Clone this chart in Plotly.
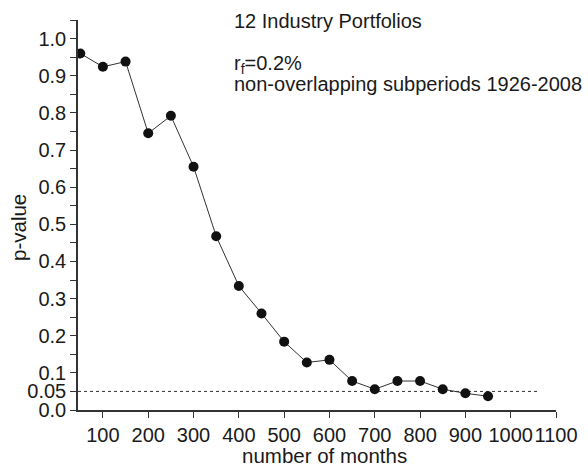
import plotly.graph_objects as go

months = [50, 100, 150, 200, 250, 300, 350, 400, 450, 500, 550, 600, 650, 700, 750, 800, 850, 900, 950]
p_values = [0.960, 0.924, 0.938, 0.745, 0.792, 0.655, 0.468, 0.334, 0.260, 0.184, 0.128, 0.135,
            0.078, 0.056, 0.078, 0.078, 0.056, 0.045, 0.037]
threshold = 0.05
threshold_x = [45, 1060]

x_tickvals = [100, 200, 300, 400, 500, 600, 700, 800, 900, 1000, 1100]
x_ticktext = ["100", "200", "300", "400", "500", "600", "700", "800", "900", "1000", "1100"]
y_tickvals = [round(i * 0.05, 2) for i in range(22)]
y_labeled = {0.0: "0.0", 0.05: "0.05", 0.1: "0.1", 0.2: "0.2", 0.3: "0.3", 0.4: "0.4",
             0.5: "0.5", 0.6: "0.6", 0.7: "0.7", 0.8: "0.8", 0.9: "0.9", 1.0: "1.0"}
y_ticktext = [y_labeled.get(v, "") for v in y_tickvals]

font_family = "Liberation Sans, Arial, sans-serif"
text_color = "#1a1a1a"
axis_color = "#333333"

L, R, T, B = 78, 32, 20, 57
W, H = 588, 467
pw, ph = W - L - R, H - T - B

fig = go.Figure()
fig.add_trace(go.Scatter(
    x=threshold_x, y=[threshold, threshold], mode="lines",
    line=dict(color="#333333", width=1, dash="dot"), hoverinfo="skip", showlegend=False))
fig.add_trace(go.Scatter(
    x=months, y=p_values, mode="lines+markers",
    line=dict(color="#333333", width=1),
    marker=dict(color="#111111", size=10),
    showlegend=False))

fig.update_layout(
    width=W, height=H,
    margin=dict(l=L, r=R, t=T, b=B, autoexpand=False),
    plot_bgcolor="white", paper_bgcolor="white",
    font=dict(family=font_family, size=20, color=text_color),
    xaxis=dict(range=[45, 1100], tickvals=x_tickvals, ticktext=x_ticktext, tickangle=0,
               automargin=False,
               showgrid=False, zeroline=False, showline=True, linecolor=axis_color, linewidth=1.5,
               ticks="outside", ticklen=6, tickwidth=1.2, tickcolor=axis_color,
               tickfont=dict(size=20, color=text_color)),
    yaxis=dict(range=[0, 1.05], tickvals=y_tickvals, ticktext=y_ticktext, tickangle=0,
               automargin=False,
               showgrid=False, zeroline=False, showline=True, linecolor=axis_color, linewidth=1.5,
               ticks="outside", ticklen=6, tickwidth=1.2, tickcolor=axis_color,
               tickfont=dict(size=20, color=text_color)),
    annotations=[
        dict(text="12 Industry Portfolios", x=385, y=1.048, xref="x", yref="y",
             xanchor="left", yanchor="middle", showarrow=False, font=dict(size=20)),
        dict(text="r<sub>f</sub>=0.2%", x=385, y=0.93, xref="x", yref="y",
             xanchor="left", yanchor="middle", showarrow=False, font=dict(size=20)),
        dict(text="non-overlapping subperiods 1926-2008", x=385, y=0.878, xref="x", yref="y",
             xanchor="left", yanchor="middle", showarrow=False, font=dict(size=20)),
        dict(text="number of months", x=(324 - L) / pw, y=(H - B - 455) / ph,
             xref="paper", yref="paper", xanchor="center", yanchor="middle",
             showarrow=False, font=dict(size=20.5)),
        dict(text="p-value", textangle=-90, x=(18 - L) / pw, y=(H - B - 228) / ph,
             xref="paper", yref="paper", xanchor="center", yanchor="middle",
             showarrow=False, font=dict(size=20.5)),
    ],
)

fig.write_html("out.html")
